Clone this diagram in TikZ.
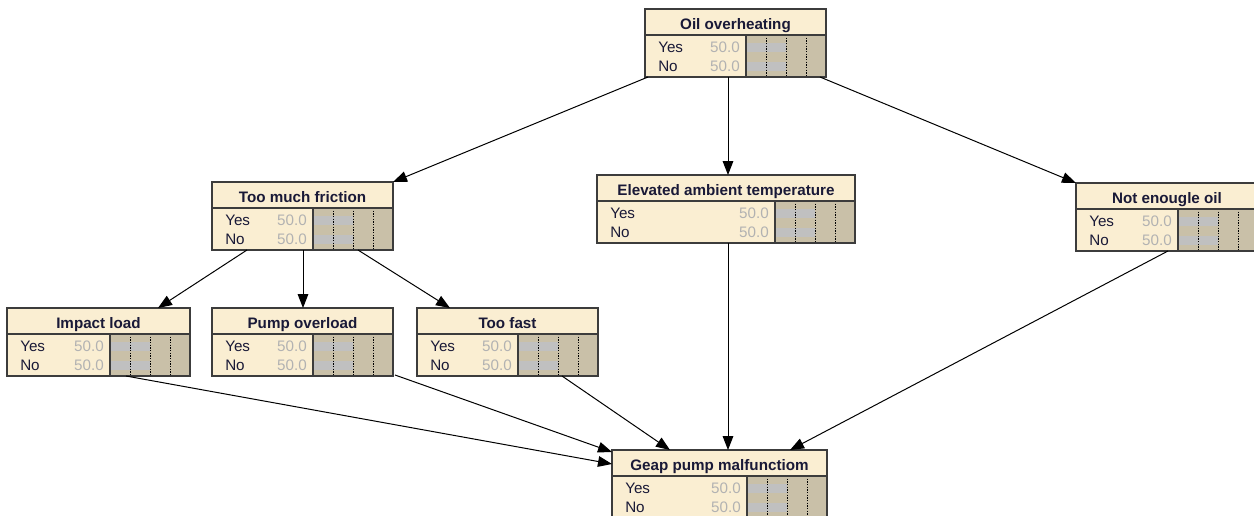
\documentclass[tikz,border=0pt]{standalone}
\usepackage{fontspec}
\setmainfont{Liberation Sans}
\usetikzlibrary{arrows.meta}

\definecolor{nodefill}{RGB}{250,238,210}
\definecolor{barback}{RGB}{201,192,168}
\definecolor{barfill}{RGB}{192,192,192}
\definecolor{boxline}{RGB}{60,60,60}
\definecolor{valgray}{RGB}{178,178,178}
\definecolor{statecol}{RGB}{25,25,55}

% one belief box: name, left, top, label width, title
\newcommand{\netbox}[5]{%
  \node[anchor=north west, inner sep=0pt, outer sep=0pt, fill=nodefill,
        minimum width={(#4+80)*0.75pt}, minimum height=51pt] (#1) at (#2,#3) {};
  \begin{scope}[shift={(#2,#3)}]
    \fill[barback] (#4,26) rectangle ++(80,42);
    \fill[barfill] (#4,34) rectangle ++(40,9);
    \fill[barfill] (#4,53) rectangle ++(40,9);
    \foreach \d in {20,40,60}
      \draw[gridline] (#4+\d,26) -- (#4+\d,68);
    \draw[frame] (0,26) -- (#4+80,26) (#4,26) -- (#4,68);
    \draw[frame] (0,0) rectangle (#4+80,68);
    \node[titletext] (#1_t) at ({(#4+80)/2},20.5) {#5};
    \node[statetext] (#1_y) at (13,38.5) {Yes};
    \node[statetext] (#1_n) at (13,57) {No};
    \node[valtext] (#1_yv) at (#4-6,38.5) {50.0};
    \node[valtext] (#1_nv) at (#4-6,57) {50.0};
  \end{scope}}

\begin{document}
\begin{tikzpicture}[
        x=0.75pt, y=-0.75pt,
        frame/.style={draw=boxline, line width=0.9pt},
        gridline/.style={draw=black, line width=0.6pt, dash pattern=on 1pt off 1pt},
        titletext/.style={anchor=base, inner sep=0pt, font=\fontsize{11.4}{13}\selectfont\bfseries, text=statecol},
        statetext/.style={anchor=west, inner sep=0pt, font=\fontsize{11.4}{13}\selectfont, text=statecol},
        valtext/.style={anchor=east, inner sep=0pt, font=\fontsize{11.4}{13}\selectfont, text=valgray},
        link/.style={draw=black, line width=0.75pt, -{Triangle[length=10.5pt, width=8pt]}}
    ]
        \fill[white] (0,0) rectangle (1254,515);
        \useasboundingbox (0,0) rectangle (1254,515);

        % Boxes
        \netbox{oil}{645}{9}{101}{Oil overheating}
        \netbox{friction}{212}{182}{101}{Too much friction}
        \netbox{elevated}{597}{175}{178}{Elevated ambient temperature}
        \netbox{lowoil}{1076}{183}{102}{Not enougle oil}
        \netbox{impact}{7}{308}{103}{Impact load}
        \netbox{overload}{212}{308}{101}{Pump overload}
        \netbox{fast}{417}{308}{101}{Too fast}
        \netbox{geap}{612}{450}{135}{Geap pump malfunctiom}

        % Links
        \draw[link] ([shift={(3,0)}]oil.south west) -- (friction.north east);
        \draw[link] ([shift={(83,0)}]oil.south west) -- ([shift={(131,0)}]elevated.north west);
        \draw[link] ([shift={(-6,0)}]oil.south east) -- (lowoil.north west);
        \draw[link] ([shift={(35,0)}]friction.south west) -- ([shift={(151,0)}]impact.north west);
        \draw[link] ([shift={(91,0)}]friction.south west) -- ([shift={(91,0)}]overload.north west);
        \draw[link] ([shift={(146,0)}]friction.south west) -- ([shift={(33,0)}]fast.north west);
        \draw[link] ([shift={(119,0)}]impact.south west) -- ([shift={(0,14)}]geap.north west);
        \draw[link] ([shift={(2,-1)}]overload.south east) -- ([shift={(0,2)}]geap.north west);
        \draw[link] ([shift={(145,0)}]fast.south west) -- ([shift={(58,0)}]geap.north west);
        \draw[link] ([shift={(131,0)}]elevated.south west) -- ([shift={(116,0)}]geap.north west);
        \draw[link] ([shift={(92,0)}]lowoil.south west) -- ([shift={(178,0)}]geap.north west);

    \end{tikzpicture}
\end{document}
